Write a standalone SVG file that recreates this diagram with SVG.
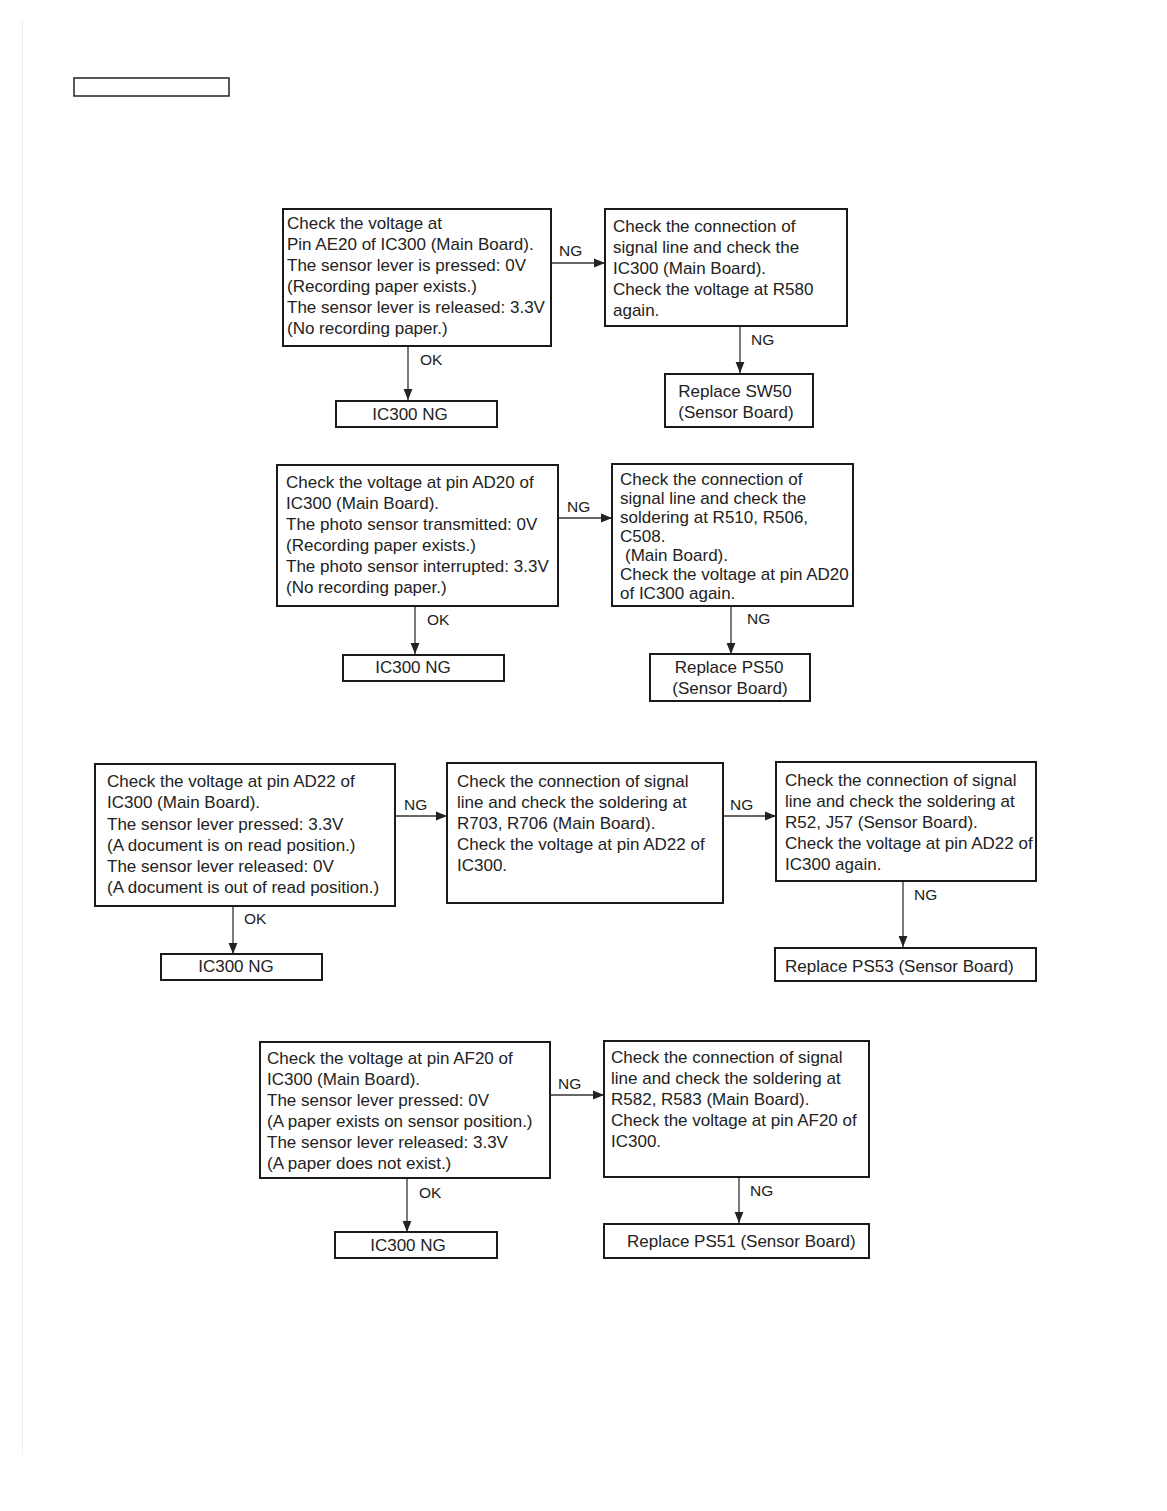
<svg xmlns="http://www.w3.org/2000/svg" width="1167" height="1511" viewBox="0 0 1167 1511">
<style>
.box{fill:#fff;stroke:#1a1a1a;stroke-width:2}
.t{font-family:"Liberation Sans",Arial,sans-serif;font-size:17px;fill:#222}
.c{text-anchor:middle}
.lbl{font-family:"Liberation Sans",Arial,sans-serif;font-size:15.5px;fill:#222}
.ln{stroke:#333;stroke-width:1.3;fill:none;marker-end:url(#ah)}
</style>
<defs>
<marker id="ah" viewBox="0 0 10 10" refX="10" refY="5" markerWidth="11" markerHeight="11" markerUnits="userSpaceOnUse" orient="auto">
<path d="M0,1 L10,5 L0,9 Z" fill="#222"/>
</marker>
</defs>
<rect width="1167" height="1511" fill="#fff"/>
<line x1="22.5" y1="20" x2="22.5" y2="1455" stroke="#eceef2" stroke-width="1"/>
<rect x="74" y="78" width="155" height="18" fill="#fff" stroke="#222" stroke-width="1.5"/>

<g id="connectors">
<line class="ln" x1="552" y1="263" x2="605" y2="263"/>
<line class="ln" x1="740" y1="327" x2="740" y2="373"/>
<line class="ln" x1="408" y1="347" x2="408" y2="400"/>
<line class="ln" x1="559" y1="518" x2="612" y2="518"/>
<line class="ln" x1="731" y1="607" x2="731" y2="654"/>
<line class="ln" x1="415" y1="607" x2="415" y2="654"/>
<line class="ln" x1="396" y1="816" x2="447" y2="816"/>
<line class="ln" x1="724" y1="816" x2="776" y2="816"/>
<line class="ln" x1="903" y1="882" x2="903" y2="947"/>
<line class="ln" x1="233" y1="907" x2="233" y2="954"/>
<line class="ln" x1="551" y1="1095" x2="604" y2="1095"/>
<line class="ln" x1="739" y1="1178" x2="739" y2="1223"/>
<line class="ln" x1="407" y1="1179" x2="407" y2="1232"/>
<text class="lbl" x="559" y="256">NG</text>
<text class="lbl" x="751" y="345">NG</text>
<text class="lbl" x="420" y="365">OK</text>
<text class="lbl" x="567" y="512">NG</text>
<text class="lbl" x="747" y="624">NG</text>
<text class="lbl" x="427" y="625">OK</text>
<text class="lbl" x="404" y="810">NG</text>
<text class="lbl" x="730" y="810">NG</text>
<text class="lbl" x="914" y="900">NG</text>
<text class="lbl" x="244" y="924">OK</text>
<text class="lbl" x="558" y="1089">NG</text>
<text class="lbl" x="750" y="1196">NG</text>
<text class="lbl" x="419" y="1198">OK</text>
</g>

<g id="n1a">
<rect class="box" x="283" y="209" width="268" height="137"/>
<text class="t" x="287" y="229">Check the voltage at</text>
<text class="t" x="287" y="250">Pin AE20 of IC300 (Main Board).</text>
<text class="t" x="287" y="271">The sensor lever is pressed: 0V</text>
<text class="t" x="287" y="292">(Recording paper exists.)</text>
<text class="t" x="287" y="313">The sensor lever is released: 3.3V</text>
<text class="t" x="287" y="334">(No recording paper.)</text>
</g>
<g id="n1b">
<rect class="box" x="605" y="209" width="242" height="117"/>
<text class="t" x="613" y="232">Check the connection of</text>
<text class="t" x="613" y="253">signal line and check the</text>
<text class="t" x="613" y="274">IC300 (Main Board).</text>
<text class="t" x="613" y="295">Check the voltage at R580</text>
<text class="t" x="613" y="316">again.</text>
</g>
<g id="n1c">
<rect class="box" x="665" y="374" width="148" height="53"/>
<text class="t c" x="735" y="397">Replace SW50</text>
<text class="t c" x="736" y="418">(Sensor Board)</text>
</g>
<g id="n1d">
<rect class="box" x="336" y="401" width="161" height="26"/>
<text class="t c" x="410" y="420">IC300 NG</text>
</g>

<g id="n2a">
<rect class="box" x="277" y="465" width="281" height="141"/>
<text class="t" x="286" y="488">Check the voltage at pin AD20 of</text>
<text class="t" x="286" y="509">IC300 (Main Board).</text>
<text class="t" x="286" y="530">The photo sensor transmitted: 0V</text>
<text class="t" x="286" y="551">(Recording paper exists.)</text>
<text class="t" x="286" y="572">The photo sensor interrupted: 3.3V</text>
<text class="t" x="286" y="593">(No recording paper.)</text>
</g>
<g id="n2b">
<rect class="box" x="612" y="464" width="241" height="142"/>
<text class="t" x="620" y="485">Check the connection of</text>
<text class="t" x="620" y="504">signal line and check the</text>
<text class="t" x="620" y="523">soldering at R510, R506,</text>
<text class="t" x="620" y="542">C508.</text>
<text class="t" x="625" y="561">(Main Board).</text>
<text class="t" x="620" y="580">Check the voltage at pin AD20</text>
<text class="t" x="620" y="599">of IC300 again.</text>
</g>
<g id="n2c">
<rect class="box" x="650" y="654" width="160" height="47"/>
<text class="t c" x="729" y="673">Replace PS50</text>
<text class="t c" x="730" y="694">(Sensor Board)</text>
</g>
<g id="n2d">
<rect class="box" x="343" y="655" width="161" height="26"/>
<text class="t c" x="413" y="673">IC300 NG</text>
</g>

<g id="n3a">
<rect class="box" x="95" y="764" width="300" height="142"/>
<text class="t" x="107" y="787">Check the voltage at pin AD22 of</text>
<text class="t" x="107" y="808">IC300 (Main Board).</text>
<text class="t" x="107" y="830">The sensor lever pressed: 3.3V</text>
<text class="t" x="107" y="851">(A document is on read position.)</text>
<text class="t" x="107" y="872">The sensor lever released: 0V</text>
<text class="t" x="107" y="893">(A document is out of read position.)</text>
</g>
<g id="n3b">
<rect class="box" x="447" y="763" width="276" height="140"/>
<text class="t" x="457" y="787">Check the connection of signal</text>
<text class="t" x="457" y="808">line and check the soldering at</text>
<text class="t" x="457" y="829">R703, R706 (Main Board).</text>
<text class="t" x="457" y="850">Check the voltage at pin AD22 of</text>
<text class="t" x="457" y="871">IC300.</text>
</g>
<g id="n3c">
<rect class="box" x="776" y="762" width="260" height="119"/>
<text class="t" x="785" y="786">Check the connection of signal</text>
<text class="t" x="785" y="807">line and check the soldering at</text>
<text class="t" x="785" y="828">R52, J57 (Sensor Board).</text>
<text class="t" x="785" y="849">Check the voltage at pin AD22 of</text>
<text class="t" x="785" y="870">IC300 again.</text>
</g>
<g id="n3d">
<rect class="box" x="775" y="948" width="261" height="33"/>
<text class="t" x="785" y="972">Replace PS53 (Sensor Board)</text>
</g>
<g id="n3e">
<rect class="box" x="161" y="954" width="161" height="26"/>
<text class="t c" x="236" y="972">IC300 NG</text>
</g>

<g id="n4a">
<rect class="box" x="260" y="1042" width="290" height="136"/>
<text class="t" x="267" y="1064">Check the voltage at pin AF20 of</text>
<text class="t" x="267" y="1085">IC300 (Main Board).</text>
<text class="t" x="267" y="1106">The sensor lever pressed: 0V</text>
<text class="t" x="267" y="1127">(A paper exists on sensor position.)</text>
<text class="t" x="267" y="1148">The sensor lever released: 3.3V</text>
<text class="t" x="267" y="1169">(A paper does not exist.)</text>
</g>
<g id="n4b">
<rect class="box" x="604" y="1041" width="265" height="136"/>
<text class="t" x="611" y="1063">Check the connection of signal</text>
<text class="t" x="611" y="1084">line and check the soldering at</text>
<text class="t" x="611" y="1105">R582, R583 (Main Board).</text>
<text class="t" x="611" y="1126">Check the voltage at pin AF20 of</text>
<text class="t" x="611" y="1147">IC300.</text>
</g>
<g id="n4c">
<rect class="box" x="604" y="1224" width="265" height="34"/>
<text class="t" x="627" y="1247">Replace PS51 (Sensor Board)</text>
</g>
<g id="n4d">
<rect class="box" x="335" y="1232" width="162" height="26"/>
<text class="t c" x="408" y="1251">IC300 NG</text>
</g>
</svg>
